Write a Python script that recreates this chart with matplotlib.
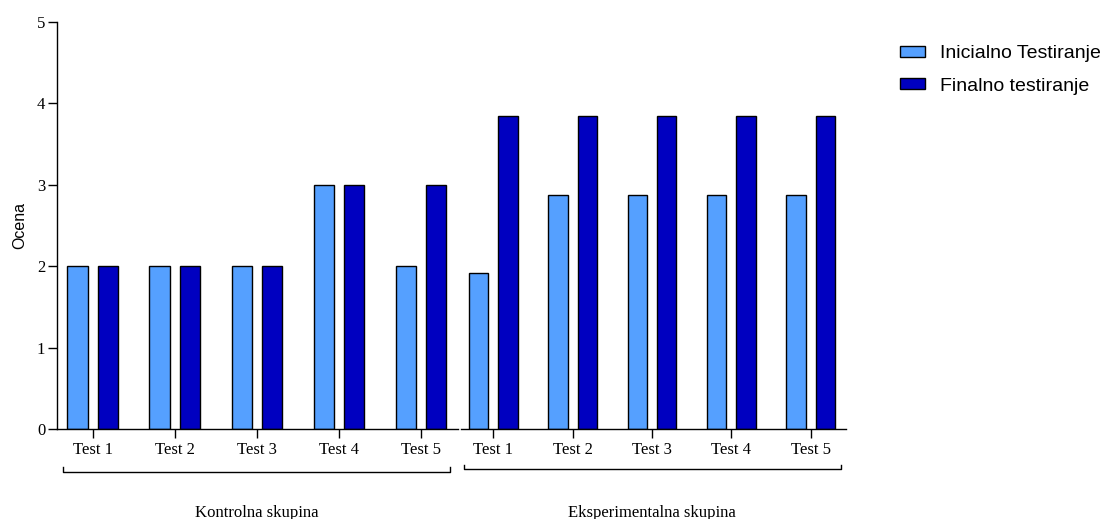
import matplotlib
matplotlib.use('Agg')
import matplotlib.pyplot as plt
import numpy as np

tests = ['Test 1', 'Test 2', 'Test 3', 'Test 4', 'Test 5']
groups = ['Kontrolna skupina', 'Eksperimentalna skupina']
series = ['Inicialno Testiranje', 'Finalno testiranje']

kontrolna_inicialno = [2, 2, 2, 3, 2]
kontrolna_finalno = [2, 2, 2, 3, 3]
eksp_inicialno = [1.92, 2.88, 2.88, 2.88, 2.88]
eksp_finalno = [3.85, 3.85, 3.85, 3.85, 3.85]

light = '#55A0FF'
dark = '#0000C0'
serif = 'Liberation Serif'
sans = 'Liberation Sans'

W, H = 1106, 519
fig = plt.figure(figsize=(W / 100, H / 100), dpi=100)

# two x-segments, placed in pixels
ax1 = fig.add_axes([57 / W, 90 / H, 401 / W, 407 / H])
ax2 = fig.add_axes([461 / W, 90 / H, 385 / W, 407 / H])

x = np.arange(len(tests))
off, bw = 0.185, 0.245

for ax, ini, fin, xl in [(ax1, kontrolna_inicialno, kontrolna_finalno, (-0.434, 4.45)),
                        (ax2, eksp_inicialno, eksp_finalno, (-0.407, 4.445))]:
    b1 = ax.bar(x - off, ini, bw, color=light, edgecolor='black', linewidth=1.0, label=series[0])
    b2 = ax.bar(x + off, fin, bw, color=dark, edgecolor='black', linewidth=1.0, label=series[1])
    ax.set_xlim(*xl)
    ax.set_ylim(0, 5)
    ax.set_xticks(x)
    ax.set_xticklabels(tests, fontfamily=serif, fontsize=12)
    ax.tick_params(axis='x', length=6.5, width=1.0, pad=3, direction='out')
    ax.spines['top'].set_visible(False)
    ax.spines['right'].set_visible(False)
    ax.spines['bottom'].set_linewidth(1.0)

ax1.set_yticks([0, 1, 2, 3, 4, 5])
ax1.set_yticklabels(['0', '1', '2', '3', '4', '5'], fontfamily=serif, fontsize=12)
ax1.tick_params(axis='y', length=6.5, width=1.0, pad=2)
ax1.spines['left'].set_linewidth(1.0)
ax1.set_ylabel('Ocena', fontfamily=sans, fontsize=11.5)
ax1.yaxis.set_label_coords(-0.075, 0.5)

ax2.spines['left'].set_visible(False)
ax2.tick_params(axis='y', left=False, labelleft=False)

# group brackets + labels
for ax, x0, x1, yb, ye in [(ax1, -0.365, 4.356, -0.105, -0.093),
                           (ax2, -0.37, 4.381, -0.098, -0.088)]:
    tr = ax.get_xaxis_transform()
    ax.plot([x0, x0, x1, x1], [ye, yb, yb, ye], color='black', lw=1.0,
            transform=tr, clip_on=False)

ax1.text(2.0, -0.216, groups[0], transform=ax1.get_xaxis_transform(),
         ha='center', va='baseline', fontfamily=serif, fontsize=12)
ax2.text(2.0, -0.216, groups[1], transform=ax2.get_xaxis_transform(),
         ha='center', va='baseline', fontfamily=serif, fontsize=12)

h, l = ax1.get_legend_handles_labels()
fig.legend(h, l, loc='upper left', bbox_to_anchor=(900 / W, 1 - 45 / H),
           frameon=False, borderpad=0, borderaxespad=0,
           handlelength=1.29, handleheight=0.5, handletextpad=0.77,
           labelspacing=0.8, prop={'family': sans, 'size': 14})

fig.savefig('out.png', dpi=100)
